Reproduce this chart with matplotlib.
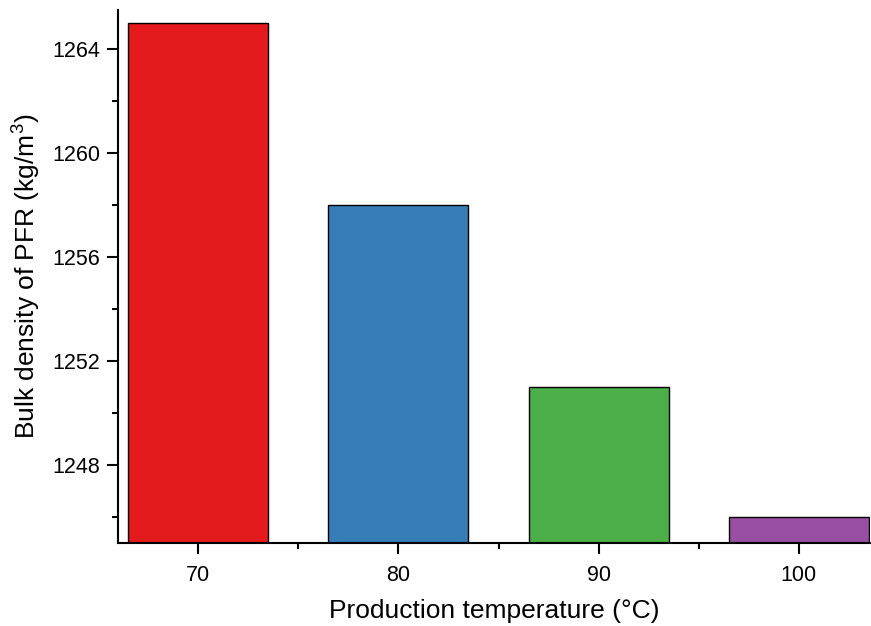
import matplotlib
matplotlib.use("Agg")
import matplotlib.pyplot as plt
from matplotlib.ticker import MultipleLocator, FixedLocator

plt.rcParams['font.family'] = ['Liberation Sans', 'DejaVu Sans']
plt.rcParams['mathtext.fontset'] = 'custom'
plt.rcParams['mathtext.rm'] = 'Liberation Sans'

temps = [70, 80, 90, 100]
density = [1265, 1258, 1251, 1246]
colors = ['#E41A1C', '#377EB8', '#4DAF4A', '#984EA3']
yticks = [1248, 1252, 1256, 1260, 1264]

fig = plt.figure(figsize=(8.71, 6.26), dpi=100)
ax = fig.add_axes([118/871, 83/626, (870-118)/871, (543-10)/626])

ax.bar(temps, density, width=7, color=colors, edgecolor='black', linewidth=1.0, zorder=2)
ax.set_xlim(66, 103.55)
ax.set_ylim(1245, 1265.5)
ax.set_xticks(temps)
ax.set_xticklabels([str(t) for t in temps])
ax.set_yticks(yticks)
ax.xaxis.set_minor_locator(FixedLocator([75, 85, 95]))
ax.yaxis.set_minor_locator(MultipleLocator(2))

for s in ['top', 'right']:
    ax.spines[s].set_visible(False)
for s in ['left', 'bottom']:
    ax.spines[s].set_linewidth(1.5)

ax.tick_params(which='major', length=8, width=1.5, labelsize=15.5, direction='out')
ax.tick_params(which='minor', length=4.5, width=1.5, direction='out')
ax.tick_params(axis='x', pad=8)
ax.tick_params(axis='y', pad=5)

ax.set_xlabel('Production temperature (°C)', fontsize=19, labelpad=9)
ax.set_ylabel(r'Bulk density of PFR (kg/m$^\mathregular{3}$)', fontsize=19, labelpad=7)

fig.savefig('out.png', dpi=100)
